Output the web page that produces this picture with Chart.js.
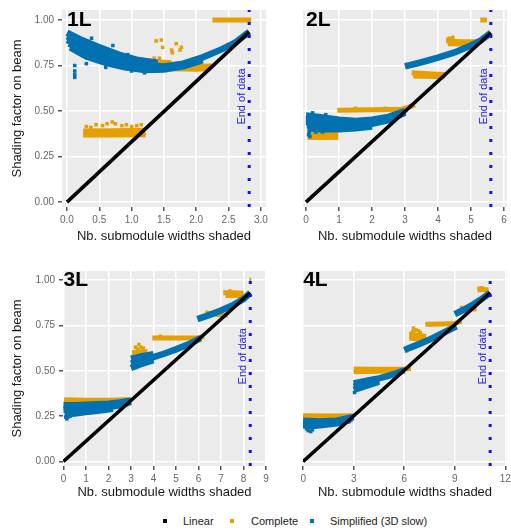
<!DOCTYPE html>
<html>
<head>
<meta charset="utf-8">
<script src="https://cdn.jsdelivr.net/npm/chart.js@4/dist/chart.umd.min.js"></script>
<style>
  body { margin: 0; background: #fff; width: 511px; height: 532px; position: relative; overflow: hidden;
         font-family: "Liberation Sans", Arial, sans-serif; }
  canvas { position: absolute; }
  .key { position: absolute; top: 514px; font-size: 11px; color: #222; line-height: 14px; }
  .dot { position: absolute; top: 519px; width: 4px; height: 4px; }
</style>
</head>
<body>
<canvas id="c1" width="270" height="250" style="left:0;top:0"></canvas>
<canvas id="c2" width="241" height="250" style="left:270px;top:0"></canvas>
<canvas id="c3" width="270" height="250" style="left:0;top:255px"></canvas>
<canvas id="c4" width="241" height="250" style="left:270px;top:255px"></canvas>

<div class="dot" style="left:163px;background:#000"></div><div class="key" style="left:183px">Linear</div>
<div class="dot" style="left:230px;background:#E69F00"></div><div class="key" style="left:251px">Complete</div>
<div class="dot" style="left:310px;background:#0072B2"></div><div class="key" style="left:330px">Simplified (3D slow)</div>

<script>
// panel labels, end of data and ticks
var panelNames = ['1L', '2L', '3L', '4L'];
var endOfData = [2.82, 5.6, 8.3, 11.1];
var yTicks = [0, 0.25, 0.5, 0.75, 1];
var xTicks1 = [0, 0.5, 1, 1.5, 2, 2.5, 3];
var xTicks2 = [0, 1, 2, 3, 4, 5, 6];
var xTicks3 = [0, 1, 2, 3, 4, 5, 6, 7, 8, 9];
var xTicks4 = [0, 3, 6, 9, 12];

// Linear
var linear1 = [[0, 0], [2.82, 0.935]];
var linear2 = [[0, 0], [5.6, 0.93]];
var linear3 = [[0, 0], [8.3, 0.93]];
var linear4 = [[0, 0], [11.1, 0.93]];

// Complete (bands)
var complete1 = [
  [[0.25, 0.368], [0.7, 0.368], [1.22, 0.37]],
  [[0.25, 0.39], [0.7, 0.392], [1.2, 0.395]],
  [[1.25, 0.775], [1.45, 0.77], [1.62, 0.765]],
  [[1.55, 0.748], [1.9, 0.746], [2.25, 0.748]],
  [[1.6, 0.732], [2.0, 0.73], [2.22, 0.732]],
  [[2.25, 1.0], [2.85, 1.0]]
];
var completeDots1 = [[0.3, 0.415], [0.37, 0.41], [0.45, 0.425], [0.55, 0.42], [0.62, 0.43], [0.7, 0.44],
  [0.75, 0.43], [0.85, 0.42], [0.92, 0.425], [1.0, 0.415], [1.08, 0.42], [1.15, 0.425],
  [1.38, 0.885], [1.46, 0.89], [1.48, 0.85], [1.69, 0.87], [1.77, 0.85], [1.75, 0.835],
  [1.62, 0.835], [1.63, 0.82], [1.43, 0.79], [1.35, 0.79]];

var complete2 = [
  [[0.05, 0.355], [0.5, 0.355], [0.98, 0.355]],
  [[0.05, 0.375], [0.5, 0.375], [0.98, 0.372]],
  [[0.95, 0.505], [2.0, 0.507], [2.9, 0.51], [3.1, 0.52], [3.3, 0.535]],
  [[3.2, 0.71], [3.7, 0.705], [4.25, 0.7]],
  [[3.25, 0.692], [4.2, 0.688]],
  [[4.25, 0.885], [4.7, 0.88], [5.2, 0.88]],
  [[4.3, 0.87], [5.0, 0.868]],
  [[5.28, 1.0], [5.48, 1.0]]
];
var completeDots2 = [[4.35, 0.9], [4.45, 0.905], [4.3, 0.895], [1.5, 0.515], [2.4, 0.515]];

var complete3 = [
  [[0.03, 0.34], [1, 0.338], [2, 0.338], [3.0, 0.342]],
  [[0.03, 0.325], [1.5, 0.322], [2.8, 0.33]],
  [[3.0, 0.575], [3.4, 0.578], [3.8, 0.58]],
  [[3.05, 0.6], [3.4, 0.605], [3.6, 0.6]],
  [[3.95, 0.68], [5, 0.68], [6.0, 0.682], [6.25, 0.69]],
  [[6.3, 0.82], [6.7, 0.812], [7.3, 0.806]],
  [[7.1, 0.93], [7.6, 0.93], [8.0, 0.928]],
  [[7.2, 0.915], [8.0, 0.915]],
  [[8.26, 1.0], [8.34, 1.0]]
];
var completeDots3 = [[3.35, 0.645], [3.45, 0.63], [3.55, 0.625], [3.3, 0.62], [3.2, 0.63], [3.65, 0.61],
  [4.3, 0.69], [7.4, 0.94]];

var complete4 = [
  [[0, 0.252], [1.5, 0.25], [3.0, 0.252]],
  [[0, 0.24], [1.5, 0.24], [2.8, 0.24]],
  [[3.0, 0.51], [4.5, 0.508], [6.0, 0.51], [6.4, 0.512]],
  [[3.0, 0.495], [4.5, 0.497], [6.0, 0.5]],
  [[6.3, 0.7], [6.8, 0.695], [7.3, 0.69]],
  [[6.3, 0.68], [6.8, 0.675], [7.2, 0.672]],
  [[7.25, 0.757], [8.3, 0.758], [9.0, 0.76], [9.4, 0.775]],
  [[9.3, 0.845], [9.8, 0.843], [10.3, 0.84]],
  [[10.35, 0.945], [10.7, 0.948], [11.0, 0.945]]
];
var completeDots4 = [[6.55, 0.735], [6.7, 0.725], [6.85, 0.72], [6.5, 0.715], [6.95, 0.71], [6.15, 0.61],
  [6.6, 0.72], [6.4, 0.705], [10.45, 0.955], [10.6, 0.957]];

// Simplified (3D slow)
var simplified1 = [
  [[0, 0.93], [0.2, 0.895], [0.5, 0.85], [0.8, 0.81], [1.1, 0.78], [1.4, 0.765]],
  [[0, 0.91], [0.2, 0.877], [0.5, 0.832], [0.8, 0.795], [1.1, 0.768], [1.4, 0.755]],
  [[0, 0.89], [0.2, 0.86], [0.5, 0.815], [0.8, 0.78], [1.1, 0.755], [1.5, 0.745], [1.8, 0.76],
   [2.1, 0.795], [2.4, 0.84], [2.6, 0.875], [2.82, 0.935]],
  [[0.03, 0.87], [0.3, 0.825], [0.6, 0.79], [0.9, 0.76], [1.2, 0.74], [1.5, 0.737], [1.8, 0.752]],
  [[0.05, 0.85], [0.3, 0.8], [0.6, 0.765], [0.9, 0.74], [1.2, 0.725], [1.5, 0.728], [1.8, 0.745], [2.1, 0.78]]
];
var simplifiedDots1 = [[0.12, 0.72], [0.12, 0.7], [0.12, 0.685], [0.12, 0.75], [0.38, 0.9], [0.71, 0.86],
  [0.08, 0.85], [0.94, 0.81], [0.3, 0.76], [0.45, 0.79], [0.2, 0.82], [0.6, 0.74], [0.75, 0.75],
  [1.0, 0.72], [1.2, 0.71]];

var simplified2 = [
  [[0, 0.475], [0.5, 0.465], [1, 0.452], [1.5, 0.445], [2, 0.452], [2.5, 0.468], [3.0, 0.5]],
  [[0, 0.458], [0.5, 0.448], [1, 0.436], [1.5, 0.432], [2, 0.441], [2.5, 0.459], [3.0, 0.495]],
  [[0, 0.44], [0.5, 0.43], [1, 0.42], [1.5, 0.42], [2, 0.43], [2.5, 0.45], [3.0, 0.49]],
  [[0.03, 0.422], [0.5, 0.415], [1, 0.41], [1.5, 0.412], [2, 0.422]],
  [[0.05, 0.405], [0.5, 0.4], [1, 0.4], [1.5, 0.405], [2, 0.415]],
  [[3.0, 0.745], [3.5, 0.768], [4, 0.793], [4.5, 0.822], [5, 0.86], [5.3, 0.888], [5.6, 0.93]]
];
var simplifiedDots2 = [[0.08, 0.37], [0.12, 0.36], [0.1, 0.385], [0.3, 0.385], [0.2, 0.49], [0.6, 0.48],
  [0.5, 0.385], [3.05, 0.755]];

var simplified3 = [
  [[0, 0.31], [0.5, 0.31], [1, 0.312], [1.5, 0.315], [2, 0.318], [2.5, 0.325], [3, 0.335]],
  [[0, 0.285], [0.5, 0.288], [1, 0.29], [1.5, 0.295], [2, 0.3], [2.5, 0.31], [3, 0.328]],
  [[0.05, 0.26], [0.5, 0.265], [1, 0.272], [1.5, 0.28], [2.2, 0.29]],
  [[3, 0.565], [3.5, 0.58], [4, 0.592]],
  [[3, 0.54], [3.5, 0.56], [4, 0.575], [4.5, 0.595], [5, 0.618], [5.5, 0.643], [6.1, 0.68]],
  [[3, 0.515], [3.4, 0.535], [4, 0.558]],
  [[5.95, 0.785], [6.5, 0.808], [7, 0.832], [7.5, 0.86], [8, 0.895], [8.3, 0.93]]
];
var simplifiedDots3 = [[0.15, 0.235], [0.2, 0.245], [0.3, 0.25], [0.1, 0.245]];

var simplified4 = [
  [[0, 0.225], [1, 0.22], [2, 0.225], [3, 0.245]],
  [[0, 0.212], [1, 0.21], [2, 0.217], [2.9, 0.236]],
  [[0, 0.2], [0.5, 0.195], [1, 0.2], [2, 0.21], [2.8, 0.228]],
  [[3, 0.43], [3.5, 0.44], [4, 0.45], [4.5, 0.458], [5, 0.47], [5.5, 0.485], [6, 0.503]],
  [[3, 0.412], [3.5, 0.425], [4, 0.437], [4.5, 0.449]],
  [[3, 0.395], [3.5, 0.41], [4, 0.425], [4.5, 0.44]],
  [[6, 0.615], [6.5, 0.633], [7, 0.652], [7.5, 0.672], [8, 0.695], [8.5, 0.718], [9.1, 0.745]],
  [[9, 0.812], [9.5, 0.835], [10, 0.86], [10.5, 0.89], [11.1, 0.93]]
];
var simplifiedDots4 = [[0.3, 0.17], [0.45, 0.165], [0.55, 0.175], [0.2, 0.18], [3.05, 0.38]];

Chart.defaults.font.family = '"Liberation Sans", Arial, sans-serif';
var orange = '#E69F00';
var blue = '#0072B2';

function xy(p) { return { x: p[0], y: p[1] }; }

function lineSets(strands, color, width, order) {
  return strands.map(function (s) {
    return { data: s.map(xy), showLine: true, borderColor: color, borderWidth: width,
             pointRadius: 0, order: order, clip: 0 };
  });
}

function dotSet(dots, color, order) {
  return { data: dots.map(xy), showLine: false, pointStyle: 'rect', pointRadius: 2.5,
           backgroundColor: color, borderWidth: 0, order: order, clip: 0 };
}

var panelBg = {
  id: 'panelBg',
  beforeDraw: function (chart) {
    var a = chart.chartArea, ctx = chart.ctx;
    ctx.save();
    ctx.fillStyle = '#ebebeb';
    ctx.fillRect(a.left, a.top, a.right - a.left, a.bottom - a.top);
    ctx.restore();
  }
};

var panelText = {
  id: 'panelText',
  afterDraw: function (chart) {
    var o = chart.options.plugins.panelText;
    var ctx = chart.ctx, xs = chart.scales.x, ys = chart.scales.y;
    ctx.save();
    ctx.fillStyle = '#000';
    ctx.font = 'bold 21px "Liberation Sans", Arial, sans-serif';
    ctx.textAlign = 'left';
    ctx.textBaseline = 'middle';
    ctx.fillText(o.name, xs.getPixelForValue(0), ys.getPixelForValue(1));
    ctx.translate(xs.getPixelForValue(o.end) - 7, ys.getPixelForValue(0.58));
    ctx.rotate(-Math.PI / 2);
    ctx.fillStyle = '#2222ff';
    ctx.font = '11px "Liberation Sans", Arial, sans-serif';
    ctx.textAlign = 'center';
    ctx.fillText('End of data', 0, 0);
    ctx.restore();
  }
};

var panels = [
  { id: 'c1', name: panelNames[0], end: endOfData[0], linear: linear1, complete: complete1, completeDots: completeDots1,
    simplified: simplified1, simplifiedDots: simplifiedDots1, xTicks: xTicks1, digits: 1,
    xMin: -0.077, xMax: 3.08, yMin: -0.027, yMax: 1.055, showY: true, yWidth: 62, xHeight: 43, padTop: 10, padRight: 3, titlePad: 6 },
  { id: 'c2', name: panelNames[1], end: endOfData[1], linear: linear2, complete: complete2, completeDots: completeDots2,
    simplified: simplified2, simplifiedDots: simplifiedDots2, xTicks: xTicks2, digits: 0,
    xMin: -0.09, xMax: 6.09, yMin: -0.027, yMax: 1.055, showY: false, yWidth: 33, xHeight: 43, padTop: 10, padRight: 1, titlePad: 6 },
  { id: 'c3', name: panelNames[2], end: endOfData[2], linear: linear3, complete: complete3, completeDots: completeDots3,
    simplified: simplified3, simplifiedDots: simplifiedDots3, xTicks: xTicks3, digits: 0,
    xMin: -0.02, xMax: 9.0, yMin: -0.025, yMax: 1.05, showY: true, yWidth: 63, xHeight: 39, padTop: 16, padRight: 3, titlePad: 5 },
  { id: 'c4', name: panelNames[3], end: endOfData[3], linear: linear4, complete: complete4, completeDots: completeDots4,
    simplified: simplified4, simplifiedDots: simplifiedDots4, xTicks: xTicks4, digits: 0,
    xMin: -0.01, xMax: 12.1, yMin: -0.025, yMax: 1.05, showY: false, yWidth: 33, xHeight: 39, padTop: 16, padRight: 1, titlePad: 5 }
];

panels.forEach(function (p) {
  var datasets = []
    .concat([{ data: [{ x: p.end, y: p.yMin }, { x: p.end, y: p.yMax }], showLine: true, borderColor: '#1010ff',
               borderWidth: 3, borderDash: [3, 10], pointRadius: 0, order: -1, clip: 0 }])
    .concat(lineSets([p.linear], '#000', 3.6, 0))
    .concat(lineSets(p.simplified, blue, 6.5, 1))
    .concat([dotSet(p.simplifiedDots, blue, 1)])
    .concat(lineSets(p.complete, orange, 5, 2))
    .concat([dotSet(p.completeDots, orange, 2)]);

  new Chart(document.getElementById(p.id), {
    type: 'scatter',
    data: { datasets: datasets },
    plugins: [panelBg, panelText],
    options: {
      responsive: false,
      animation: false,
      devicePixelRatio: 1,
      layout: { padding: { left: 0, top: p.padTop, right: p.padRight, bottom: 0 } },
      plugins: { legend: { display: false }, tooltip: { enabled: false }, panelText: { name: p.name, end: p.end } },
      scales: {
        x: {
          type: 'linear', min: p.xMin, max: p.xMax,
          afterBuildTicks: function (s) { s.ticks = p.xTicks.map(function (v) { return { value: v }; }); },
          afterFit: function (s) { s.height = p.xHeight; s.paddingLeft = 0; s.paddingRight = 0; },
          grid: { color: '#ffffff', lineWidth: 1.5, tickColor: '#555', tickLength: 4 },
          border: { display: false },
          ticks: { color: '#666', font: { size: 10 }, padding: 3, maxRotation: 0, autoSkip: false,
                   callback: function (v) { return v.toFixed(p.digits); } },
          title: { display: true, text: 'Nb. submodule widths shaded', color: '#1a1a1a',
                   font: { size: 13 }, padding: { top: 0, bottom: p.titlePad } }
        },
        y: {
          type: 'linear', min: p.yMin, max: p.yMax,
          afterBuildTicks: function (s) { s.ticks = yTicks.map(function (v) { return { value: v }; }); },
          afterFit: function (s) { s.width = p.yWidth; s.paddingTop = 0; s.paddingBottom = 0; },
          grid: { color: '#ffffff', lineWidth: 1.5, tickColor: '#555', tickLength: 4, drawTicks: p.showY },
          border: { display: false },
          ticks: { display: p.showY, color: '#666', font: { size: 10 }, padding: 4,
                   callback: function (v) { return v.toFixed(2); } },
          title: { display: p.showY, text: 'Shading factor on beam', color: '#1a1a1a',
                   font: { size: 13 }, padding: { top: 10, bottom: 0 } }
        }
      }
    }
  });
});
</script>
</body>
</html>
